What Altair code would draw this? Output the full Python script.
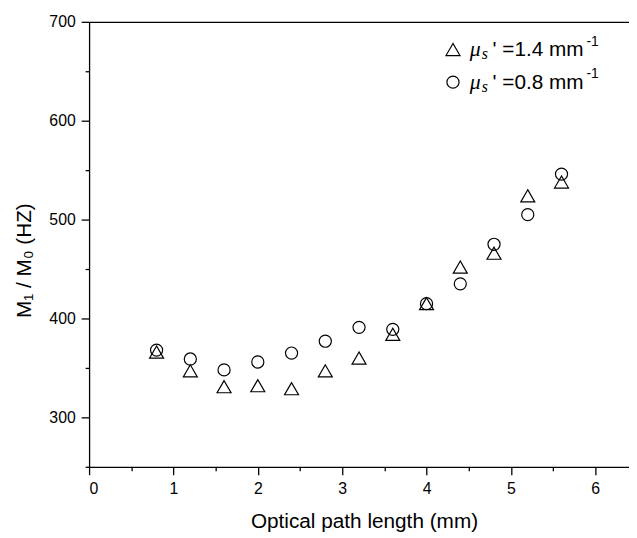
import altair as alt
import pandas as pd

# ---- data ----
path_length = [0.8, 1.2, 1.6, 2.0, 2.4, 2.8, 3.2, 3.6, 4.0, 4.4, 4.8, 5.2, 5.6]
ratio_14 = [366, 347, 331, 332, 329, 347, 360, 384, 415, 452, 466, 524, 538]
ratio_08 = [368, 359, 348, 356, 365, 377, 391, 389, 415, 435, 475, 505, 546]
series = ["1.4", "0.8"]
shapes = ["triangle-up", "circle"]
sizes = [200, 150]
x_ticks = [0, 0.5, 1, 1.5, 2, 2.5, 3, 3.5, 4, 4.5, 5, 5.5, 6]
y_ticks = [250, 300, 350, 400, 450, 500, 550, 600, 650, 700]
x_title = "Optical path length (mm)"
y_title = "M\u2081 / M\u2080 (HZ)"
legend_mu = "\u03bc"
legend_sub = "s"
legend_mid = ["' =1.4 mm", "' =0.8 mm"]
legend_sup = "-1"

# ---- layout ----
W, H = 546, 450
FONT = "Liberation Sans"
SERIF = "Liberation Serif"

rows = []
for s, vals in zip(series, [ratio_14, ratio_08]):
    for x, v in zip(path_length, vals):
        rows.append({"x": x, "y": v, "series": s})
df = pd.DataFrame(rows)

xscale = alt.Scale(domain=[0, 6.4], nice=False, zero=False)
yscale = alt.Scale(domain=[250, 700], nice=False, zero=False)

x_axis = alt.Axis(
    values=x_ticks,
    labelExpr="datum.value % 1 === 0 ? format(datum.value, 'd') : ''",
    tickSize={"condition": {"test": "datum.value % 1 === 0", "value": 8}, "value": 4},
    tickColor="black", tickWidth=1.3, domainColor="black", domainWidth=1.3,
    labelFont=FONT, labelFontSize=16, labelColor="black", labelPadding=6,
    grid=False, title=x_title, titleFont=FONT, titleFontSize=21,
    titleFontWeight="normal", titleColor="black",
    titleBaseline="alphabetic", titleY=61, titleX=W / 2 + 5, titleAlign="center",
)
y_axis = alt.Axis(
    values=y_ticks,
    labelExpr="datum.value % 100 === 0 ? format(datum.value, 'd') : ''",
    tickSize={"condition": {"test": "datum.value % 100 === 0", "value": 8}, "value": 4},
    tickColor="black", tickWidth=1.3, domainColor="black", domainWidth=1.3,
    labelFont=FONT, labelFontSize=16, labelColor="black", labelPadding=6,
    grid=False, title=y_title, titleFont=FONT, titleFontSize=21,
    titleFontWeight="normal", titleColor="black",
    titleBaseline="alphabetic", titleX=-59, titleY=241, titleAlign="center",
    titleAngle=270,
)

points = alt.Chart(df).mark_point(filled=False, color="black", strokeWidth=1.2, opacity=1).encode(
    x=alt.X("x:Q", scale=xscale, axis=x_axis),
    y=alt.Y("y:Q", scale=yscale, axis=y_axis),
    shape=alt.Shape("series:N", scale=alt.Scale(domain=series, range=shapes), legend=None),
    size=alt.Size("series:O", scale=alt.Scale(domain=series, range=sizes), legend=None),
)

top_axis = alt.Chart(df).mark_point(opacity=0).encode(
    x=alt.X("x:Q", scale=xscale,
            axis=alt.Axis(orient="top", labels=False, ticks=False, title=None, grid=False,
                          domainColor="black", domainWidth=1.3)),
)

# ---- hand-made legend ----
leg_layers = []
sym_x, row0, gap = 368, 28, 33
for i, s in enumerate(series):
    yc = row0 + i * gap
    base = yc + 7
    leg_layers.append(
        alt.Chart(pd.DataFrame({"series": [s]})).mark_point(
            shape=shapes[i], size=sizes[i], filled=False, color="black", strokeWidth=1.2, opacity=1
        ).encode(x=alt.value(sym_x), y=alt.value(yc))
    )
    leg_layers.append(
        alt.Chart(pd.DataFrame({"t": [legend_mu]})).mark_text(
            font=SERIF, fontStyle="italic", fontSize=22, align="left", baseline="alphabetic", color="black"
        ).encode(x=alt.value(385), y=alt.value(base), text="t:N")
    )
    leg_layers.append(
        alt.Chart(pd.DataFrame({"t": [legend_sub]})).mark_text(
            font=SERIF, fontStyle="italic", fontSize=16, align="left", baseline="alphabetic", color="black"
        ).encode(x=alt.value(397), y=alt.value(base + 3), text="t:N")
    )
    leg_layers.append(
        alt.Chart(pd.DataFrame({"t": [legend_mid[i]]})).mark_text(
            font=FONT, fontSize=21, align="left", baseline="alphabetic", color="black"
        ).encode(x=alt.value(408), y=alt.value(base), text="t:N")
    )
    leg_layers.append(
        alt.Chart(pd.DataFrame({"t": [legend_sup]})).mark_text(
            font=FONT, fontSize=14, align="left", baseline="alphabetic", color="black"
        ).encode(x=alt.value(503), y=alt.value(base - 11), text="t:N")
    )

chart = alt.layer(points, top_axis, *leg_layers).resolve_axis(x="independent").properties(
    width=W, height=H,
    padding={"left": 82, "top": 11, "right": 0, "bottom": 66},
    autosize=alt.AutoSizeParams(type="none"),
).configure_view(stroke=None)

chart.save("out.html", embed_options={"renderer": "svg", "actions": False})
